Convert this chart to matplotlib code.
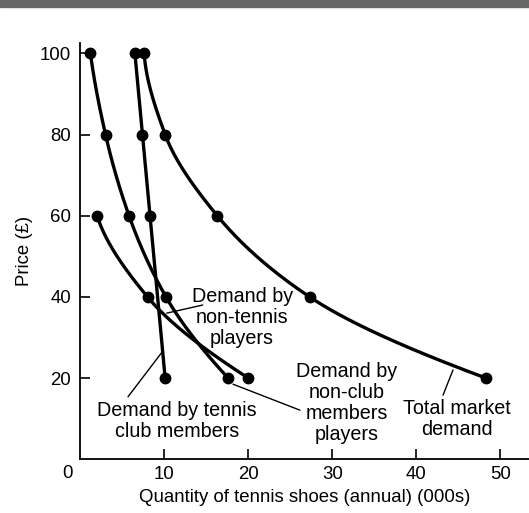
import matplotlib
matplotlib.use('Agg')
import matplotlib.pyplot as plt
from matplotlib.patches import Rectangle
import numpy as np

plt.rcParams['font.family'] = ['Liberation Sans', 'DejaVu Sans']
FS = 14.2
FS_AX = 13.4

# price levels (£) and quantities demanded (000s)
price_nonclub = [100, 80, 60, 40, 20]
qty_nonclub = [1.2, 3.0, 5.8, 10.2, 17.6]

price_club = [100, 80, 60, 20]
qty_club = [6.5, 7.4, 8.3, 10.1]

price_nontennis = [60, 40, 20]
qty_nontennis = [2.0, 8.0, 20.0]

price_total = [100, 80, 60, 40, 20]
qty_total = [7.6, 10.1, 16.3, 27.3, 48.3]

xticks = [10, 20, 30, 40, 50]
yticks = [20, 40, 60, 80, 100]


def pchip(xk, yk, xs):
    # monotone cubic (Fritsch-Carlson) for a smooth curve through the points
    xk = np.asarray(xk, float)
    yk = np.asarray(yk, float)
    h = np.diff(xk)
    d = np.diff(yk) / h
    n = len(xk)
    m = np.zeros(n)
    if n == 2:
        m[:] = d[0]
    else:
        for k in range(1, n - 1):
            if d[k - 1] * d[k] <= 0:
                m[k] = 0
            else:
                w1 = 2 * h[k] + h[k - 1]
                w2 = h[k] + 2 * h[k - 1]
                m[k] = (w1 + w2) / (w1 / d[k - 1] + w2 / d[k])
        m[0] = ((2 * h[0] + h[1]) * d[0] - h[0] * d[1]) / (h[0] + h[1])
        if np.sign(m[0]) != np.sign(d[0]):
            m[0] = 0
        m[-1] = ((2 * h[-1] + h[-2]) * d[-1] - h[-1] * d[-2]) / (h[-1] + h[-2])
        if np.sign(m[-1]) != np.sign(d[-1]):
            m[-1] = 0
    idx = np.clip(np.searchsorted(xk, xs) - 1, 0, n - 2)
    t = (xs - xk[idx]) / h[idx]
    h00 = 2 * t**3 - 3 * t**2 + 1
    h10 = t**3 - 2 * t**2 + t
    h01 = -2 * t**3 + 3 * t**2
    h11 = t**3 - t**2
    return (h00 * yk[idx] + h10 * h[idx] * m[idx]
            + h01 * yk[idx + 1] + h11 * h[idx] * m[idx + 1])


def curve(ax, p, q):
    p = np.asarray(p, float)
    q = np.asarray(q, float)
    order = np.argsort(p)
    ps = np.linspace(p.min(), p.max(), 200)
    qs = pchip(p[order], q[order], ps)
    ax.plot(qs, ps, color='black', lw=2.4, solid_capstyle='round')
    ax.plot(q, p, 'o', color='black', ms=7.5)


fig = plt.figure(figsize=(5.29, 5.13), dpi=100)
fig.patches.append(Rectangle((0, 1 - 6.5 / 513), 1, 6.5 / 513, transform=fig.transFigure,
                             color='#666666', zorder=0))
ax = fig.add_axes([80.3 / 529, (513 - 459.3) / 513, (529 - 80.3) / 529, (459.3 - 42.7) / 513])

curve(ax, price_nonclub, qty_nonclub)
curve(ax, price_club, qty_club)
curve(ax, price_nontennis, qty_nontennis)
curve(ax, price_total, qty_total)

ax.set_xlim(0, (529 - 80.3) / 8.4)
ax.set_ylim(0, (459.3 - 42.7) / 4.06)
for s in ['top', 'right']:
    ax.spines[s].set_visible(False)
for s in ['left', 'bottom']:
    ax.spines[s].set_linewidth(1.3)
ax.set_xticks(xticks)
ax.set_yticks(yticks)
ax.tick_params(direction='in', length=7, width=1.2, labelsize=FS_AX)
ax.tick_params(axis='x', pad=4.5)
ax.tick_params(axis='y', pad=6.5)
ax.annotate('0', xy=(0, 0), xytext=(-9, -10), textcoords='offset points',
            ha='center', va='center', fontsize=FS_AX)

ax.set_xlabel('Quantity of tennis shoes (annual) (000s)', fontsize=FS_AX, labelpad=4.5)
ax.set_ylabel('Price (£)', fontsize=FS_AX, labelpad=5)

# labels and leader lines
labels = [
    ('Demand by\nnon-tennis\nplayers', (19.27, 35.0), (10.29, 36.0), (14.57, 38.0)),
    ('Demand by tennis\nclub members', (11.51, 9.4), (9.73, 26.4), (5.68, 15.4)),
    ('Demand by\nnon-club\nmembers\nplayers', (31.75, 13.9), (18.18, 18.5), (26.15, 12.1)),
    ('Total market\ndemand', (44.8, 9.9), (44.37, 22.0), (43.18, 15.8)),
]
for txt, pos, a, b in labels:
    ax.text(pos[0], pos[1], txt, ha='center', va='center', fontsize=FS, linespacing=1.12)
    ax.annotate('', xy=a, xytext=b, arrowprops=dict(arrowstyle='-', lw=1.0, color='black',
                                                    shrinkA=0, shrinkB=0))

fig.savefig('out.png', dpi=100)
